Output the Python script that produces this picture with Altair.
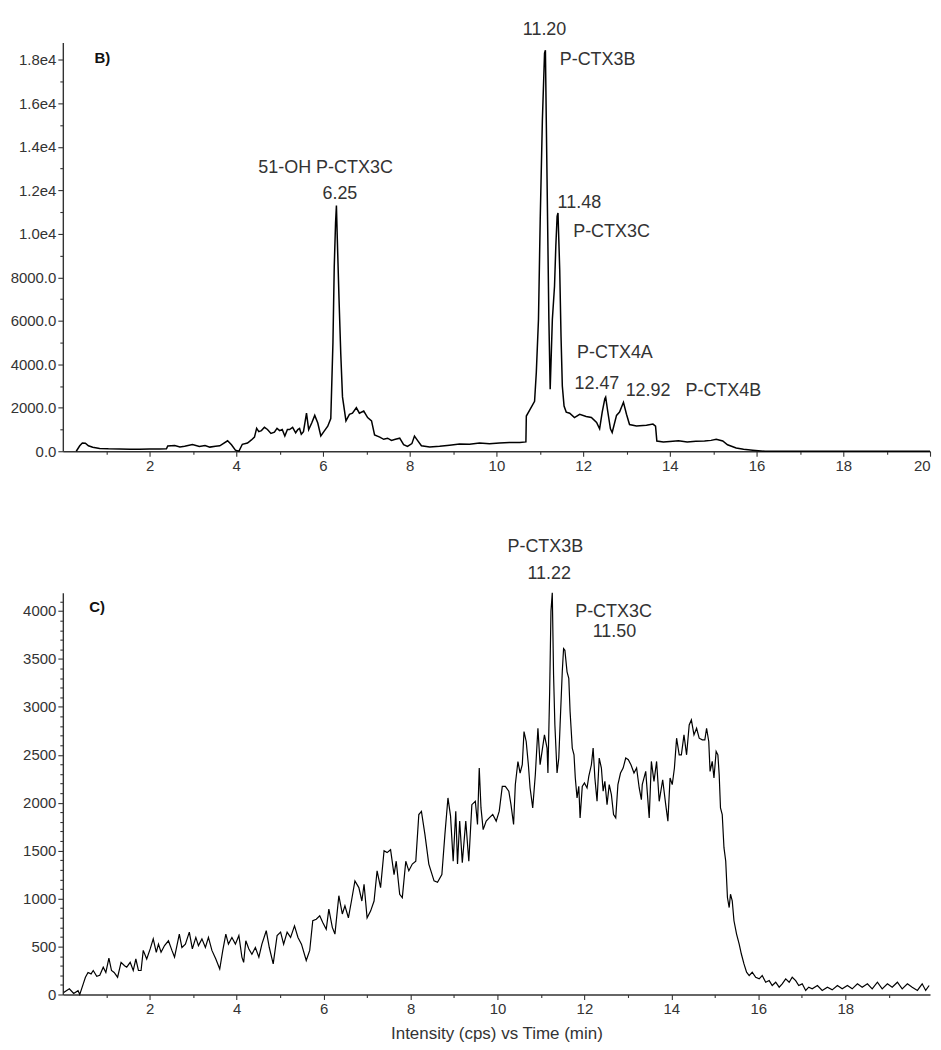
import altair as alt
import pandas as pd

FONT = "Liberation Sans"
INK = "#333333"

# ---- panel B) trace (time in min, intensity in cps) ----
b_time = [
    0.31, 0.39, 0.45, 0.52, 0.59, 0.69, 0.85, 1.05, 1.31, 1.55, 1.77, 2.0, 2.23, 2.39,
    2.42, 2.58, 2.7, 2.81, 2.99, 3.15, 3.28, 3.39, 3.52, 3.62, 3.8, 3.89, 3.98, 4.06,
    4.14, 4.26, 4.35, 4.42, 4.47, 4.52, 4.58, 4.65, 4.72, 4.8, 4.88, 4.94, 5.0, 5.06,
    5.12, 5.18, 5.23, 5.3, 5.37, 5.42, 5.46, 5.5, 5.55, 5.62, 5.67, 5.74, 5.81, 5.88,
    5.95, 6.02, 6.11, 6.18, 6.23, 6.26, 6.29, 6.31, 6.33, 6.37, 6.41, 6.45, 6.53, 6.61,
    6.68, 6.77, 6.84, 6.94, 7.03, 7.12, 7.19, 7.31, 7.4, 7.49, 7.58, 7.67, 7.77, 7.86,
    7.95, 8.05, 8.11, 8.18, 8.27, 8.46, 8.69, 8.92, 9.15, 9.38, 9.61, 9.84, 10.07, 10.3,
    10.54, 10.68, 10.69, 10.77, 10.88, 10.92, 10.97, 11.01, 11.06, 11.11, 11.13, 11.15,
    11.18, 11.21, 11.24, 11.29, 11.34, 11.37, 11.4, 11.42, 11.46, 11.49, 11.52, 11.56,
    11.61, 11.69, 11.8, 11.92, 12.07, 12.19, 12.31, 12.38, 12.44, 12.5, 12.52, 12.57,
    12.63, 12.67, 12.77, 12.84, 12.93, 13.0, 13.07, 13.23, 13.46, 13.61, 13.67, 13.7,
    13.85, 14.0, 14.2, 14.4, 14.6, 14.8, 14.95, 15.07, 15.22, 15.33, 15.53, 15.7,
    15.91, 16.2, 18.0, 20.0,
]
b_intensity = [
    0, 250, 380, 370, 250, 180, 130, 110, 100, 95, 90, 100, 100, 110,
    240, 260, 200, 230, 310, 220, 260, 190, 230, 250, 480, 300, 50, 0,
    320, 380, 520, 650, 1050, 900, 950, 1100, 1000, 820, 880, 1050, 950, 1000,
    700, 1000, 1000, 1100, 850, 1000, 1050, 780, 900, 1750, 1000, 1300, 1650, 1300,
    700, 900, 1150, 1500, 5000, 8500, 10500, 11300, 9800, 7000, 4500, 2500, 1400, 1700,
    1750, 2000, 1750, 1850, 1550, 1400, 750, 650, 550, 600, 500, 550, 600, 300,
    220, 350, 700, 500, 250, 200, 230, 280, 330, 320, 380, 350, 380, 400,
    400, 430, 1620, 1900, 2300, 3620, 6060, 10650, 15240, 18320, 18450, 15240,
    10650, 6060, 2850, 6060, 7590, 9430, 10800, 10960, 8350, 5290, 3000, 2080,
    1800, 1750, 1545, 1700, 1600, 1550, 1320, 1030, 1800, 2410, 2490, 1800,
    1030, 860, 1650, 1800, 2250, 1700, 1230, 1160, 1200, 1250, 1150, 470,
    420, 450, 480, 430, 460, 470, 500, 550, 470, 300, 150, 90,
    50, 0, 0, 0,
]

# ---- panel C) trace ----
c_time = [
    0.02, 0.15, 0.25, 0.35, 0.39, 0.47, 0.52, 0.58, 0.65, 0.70, 0.78, 0.85, 0.93, 0.99,
    1.06, 1.12, 1.18, 1.26, 1.34, 1.42, 1.47, 1.55, 1.62, 1.68, 1.74, 1.80, 1.85, 1.93,
    2.01, 2.08, 2.15, 2.20, 2.26, 2.34, 2.43, 2.51, 2.57, 2.68, 2.74, 2.82, 2.91, 2.98,
    3.06, 3.12, 3.20, 3.28, 3.35, 3.43, 3.52, 3.61, 3.68, 3.75, 3.81, 3.89, 3.97, 4.05,
    4.12, 4.16, 4.21, 4.28, 4.35, 4.43, 4.51, 4.58, 4.68, 4.75, 4.84, 4.93, 5.01, 5.08,
    5.16, 5.24, 5.33, 5.41, 5.49, 5.60, 5.68, 5.75, 5.83, 5.91, 5.98, 6.06, 6.12, 6.20,
    6.26, 6.35, 6.43, 6.49, 6.57, 6.64, 6.72, 6.81, 6.88, 6.93, 7.00, 7.08, 7.16, 7.23,
    7.31, 7.39, 7.46, 7.54, 7.62, 7.67, 7.75, 7.81, 7.89, 7.96, 8.04, 8.12, 8.19, 8.25,
    8.33, 8.42, 8.54, 8.62, 8.72, 8.79, 8.86, 8.92, 8.98, 9.04, 9.08, 9.13, 9.19, 9.27,
    9.34, 9.41, 9.49, 9.54, 9.58, 9.62, 9.67, 9.74, 9.81, 9.89, 9.97, 10.04, 10.11, 10.18,
    10.26, 10.31, 10.37, 10.41, 10.47, 10.52, 10.57, 10.61, 10.66, 10.71, 10.75, 10.81,
    10.87, 10.93, 10.98, 11.03, 11.08, 11.14, 11.16, 11.20, 11.23, 11.26, 11.29, 11.32,
    11.37, 11.41, 11.44, 11.49, 11.52, 11.55, 11.60, 11.64, 11.67, 11.72, 11.76, 11.79,
    11.83, 11.87, 11.90, 11.95, 12.00, 12.06, 12.10, 12.16, 12.20, 12.24, 12.29, 12.34,
    12.39, 12.43, 12.47, 12.52, 12.57, 12.62, 12.67, 12.72, 12.77, 12.83, 12.89, 12.95,
    13.01, 13.07, 13.14, 13.20, 13.26, 13.31, 13.33, 13.41, 13.49, 13.54, 13.60, 13.66,
    13.72, 13.80, 13.87, 13.92, 13.97, 14.02, 14.07, 14.12, 14.18, 14.23, 14.29, 14.35,
    14.41, 14.46, 14.52, 14.58, 14.64, 14.71, 14.77, 14.81, 14.86, 14.89, 14.94, 14.98,
    15.03, 15.07, 15.10, 15.13, 15.17, 15.21, 15.25, 15.29, 15.33, 15.36, 15.40, 15.44,
    15.50, 15.56, 15.61, 15.67, 15.73, 15.79, 15.86, 15.94, 16.02, 16.09, 16.17, 16.25,
    16.32, 16.40, 16.48, 16.55, 16.63, 16.71, 16.78, 16.86, 16.93, 17.01, 17.09, 17.16,
    17.24, 17.36, 17.47, 17.59, 17.70, 17.82, 17.93, 18.05, 18.16, 18.28, 18.39, 18.51,
    18.62, 18.74, 18.85, 18.97, 19.08, 19.20, 19.31, 19.43, 19.54, 19.66, 19.77, 19.85,
    19.93,
]
c_intensity = [
    20, 60, 10, 40, 0, 110, 180, 230, 215, 250, 190, 200, 285, 230,
    380, 250, 230, 180, 335, 300, 285, 335, 250, 370, 250, 250, 460, 370,
    475, 580, 440, 525, 440, 510, 560, 460, 390, 630, 490, 525, 650, 475,
    595, 510, 580, 490, 595, 460, 370, 265, 460, 630, 525, 595, 525, 615,
    390, 335, 560, 475, 420, 490, 390, 525, 665, 490, 320, 615, 650, 525,
    650, 595, 715, 595, 525, 355, 460, 770, 785, 820, 750, 680, 890, 700,
    630, 1030, 840, 925, 800, 975, 1185, 1115, 975, 1150, 800, 870, 975, 1290,
    1115, 1500, 1480, 1510, 1250, 1390, 1045, 1010, 1390, 1290, 1360, 1390, 1877, 1910,
    1670, 1360, 1185, 1170, 1250, 1670, 2050, 1860, 1390, 1910, 1360, 1810, 1375, 1810,
    1390, 1980, 2015, 1773, 2362, 1946, 1720, 1808, 1842, 1877, 1808, 1912, 2171, 2171,
    2120, 1980, 1773, 2190, 2430, 2310, 2396, 2743, 2639, 2396, 2154, 1946,
    2292, 2777, 2396, 2552, 2708, 2570, 2310, 3158, 4000, 4190, 3331, 2812,
    2310, 2466, 2812, 3366, 3608, 3590, 3366, 3297, 2950, 2570, 2500, 2258,
    2050, 2171, 1842, 2171, 2206, 2154, 2275, 2396, 2570, 2258, 2015, 2466,
    2362, 2120, 2223, 1980, 2189, 2085, 1877, 1842, 2189, 2310, 2362, 2466,
    2448, 2396, 2310, 2362, 2154, 2032, 2189, 2327, 1842, 2431, 2223, 2431,
    2015, 2240, 1981, 1808, 2258, 2189, 2362, 2673, 2500, 2500, 2708, 2500,
    2812, 2864, 2708, 2777, 2673, 2656, 2656, 2777, 2639, 2327, 2431, 2258,
    2535, 2500, 2292, 1946, 1877, 1531, 1392, 1011, 907, 1046, 977, 769,
    630, 526, 422, 319, 232, 197, 232, 180, 163, 197, 128, 145,
    94, 128, 76, 111, 163, 128, 180, 145, 94, 111, 42, 76,
    59, 94, 42, 76, 48, 94, 59, 94, 59, 111, 76, 111,
    59, 128, 59, 111, 76, 128, 59, 111, 76, 42, 111, 42,
    94,
]

# ---- peak annotations ----
b_center_text = ["51-OH P-CTX3C", "6.25", "11.20"]
b_center_x = [6.06, 6.39, 11.11]
b_center_y = [13040, 11840, 19370]
b_left_text = ["P-CTX3B", "11.48", "P-CTX3C", "P-CTX4A", "12.47", "12.92", "P-CTX4B"]
b_left_x = [11.46, 11.41, 11.77, 11.86, 11.80, 12.98, 14.36]
b_left_y = [17990, 11430, 10100, 4500, 3075, 2770, 2770]

c_text = ["P-CTX3B", "11.22", "P-CTX3C", "11.50"]
c_x = [11.10, 11.19, 12.67, 12.69]
c_y = [4665, 4385, 3990, 3782]

b_major_x = list(range(2, 21, 2))
b_minor_x = list(range(1, 21, 2))
b_major_y = list(range(0, 18001, 2000))
b_minor_y = list(range(1000, 18001, 2000))
c_major_x = list(range(2, 19, 2))
c_minor_x = list(range(1, 20, 2))
c_major_y = list(range(0, 4001, 500))
c_minor_y = [v for v in range(100, 4200, 100) if v % 500]

df_b = pd.DataFrame({"time": b_time, "intensity": b_intensity})
df_c = pd.DataFrame({"time": c_time, "intensity": c_intensity})
df_bc = pd.DataFrame({"x": b_center_x, "y": b_center_y, "label": b_center_text})
df_bl = pd.DataFrame({"x": b_left_x, "y": b_left_y, "label": b_left_text})
df_ct = pd.DataFrame({"x": c_x, "y": c_y, "label": c_text})


def panel(df, ann, xdom, ydom, xmaj, xmin, ymaj, ymin, ylabel_expr, xtitle,
          tag, tag_xy, height, stroke):
    xs = alt.Scale(domain=xdom, nice=False, zero=False)
    ys = alt.Scale(domain=ydom, nice=False)
    line = alt.Chart(df).mark_line(color="black", strokeWidth=stroke).encode(
        x=alt.X("time:Q", scale=xs, title=xtitle,
                axis=alt.Axis(values=xmaj, labelFlush=True, labelOverlap=False)),
        y=alt.Y("intensity:Q", scale=ys, title=None,
                axis=alt.Axis(values=ymaj, labelExpr=ylabel_expr)),
    )
    minor = alt.Chart(df).mark_line(strokeOpacity=0).encode(
        x=alt.X("time:Q", scale=xs, title=None,
                axis=alt.Axis(values=xmin, labels=False, domain=False, tickSize=3, orient="bottom")),
        y=alt.Y("intensity:Q", scale=ys, title=None,
                axis=alt.Axis(values=ymin, labels=False, domain=False, tickSize=3, orient="left")),
    )
    layers = [line, minor]
    for d, align in ann:
        layers.append(
            alt.Chart(d).mark_text(align=align, baseline="middle", fontSize=18,
                                   font=FONT, color=INK).encode(
                x=alt.X("x:Q", scale=xs, axis=None),
                y=alt.Y("y:Q", scale=ys, axis=None),
                text="label:N",
            )
        )
    tag_df = pd.DataFrame({"x": [tag_xy[0]], "y": [tag_xy[1]], "label": [tag]})
    layers.append(
        alt.Chart(tag_df).mark_text(fontSize=15, fontWeight="bold", font=FONT,
                                    color="#111111").encode(
            x=alt.X("x:Q", scale=xs, axis=None),
            y=alt.Y("y:Q", scale=ys, axis=None),
            text="label:N",
        )
    )
    return alt.layer(*layers).resolve_axis(x="independent", y="independent").properties(
        width=870, height=height
    )


top = panel(
    df_b, [(df_bc, "center"), (df_bl, "left")], [0, 20], [0, 18800],
    b_major_x, b_minor_x, b_major_y, b_minor_y,
    "datum.value >= 10000 ? format(datum.value / 10000, '.1f') + 'e4' : format(datum.value, '.1f')",
    None, "B)", (0.91, 18110), 410, 1.5,
)
bottom = panel(
    df_c, [(df_ct, "center")], [0, 19.95], [0, 4190],
    c_major_x, c_minor_x, c_major_y, c_minor_y,
    "format(datum.value, 'd')",
    "Intensity (cps) vs Time (min)", "C)", (0.79, 4040), 403, 1.2,
)

chart = alt.vconcat(top, bottom, spacing=65).properties(
    padding={"left": 2, "top": 11, "right": 0, "bottom": 0}
).configure_view(stroke=None).configure_axis(
    grid=False,
    domainColor=INK,
    domainWidth=1.4,
    tickColor=INK,
    tickWidth=1.1,
    tickSize=5,
    labelFont=FONT,
    labelFontSize=15,
    labelColor=INK,
    labelPadding=2,
    titleFont=FONT,
    titleFontSize=17,
    titleFontWeight="normal",
    titleColor=INK,
    titlePadding=9,
)

chart.save("out.html", embed_options={"renderer": "svg", "actions": False})
